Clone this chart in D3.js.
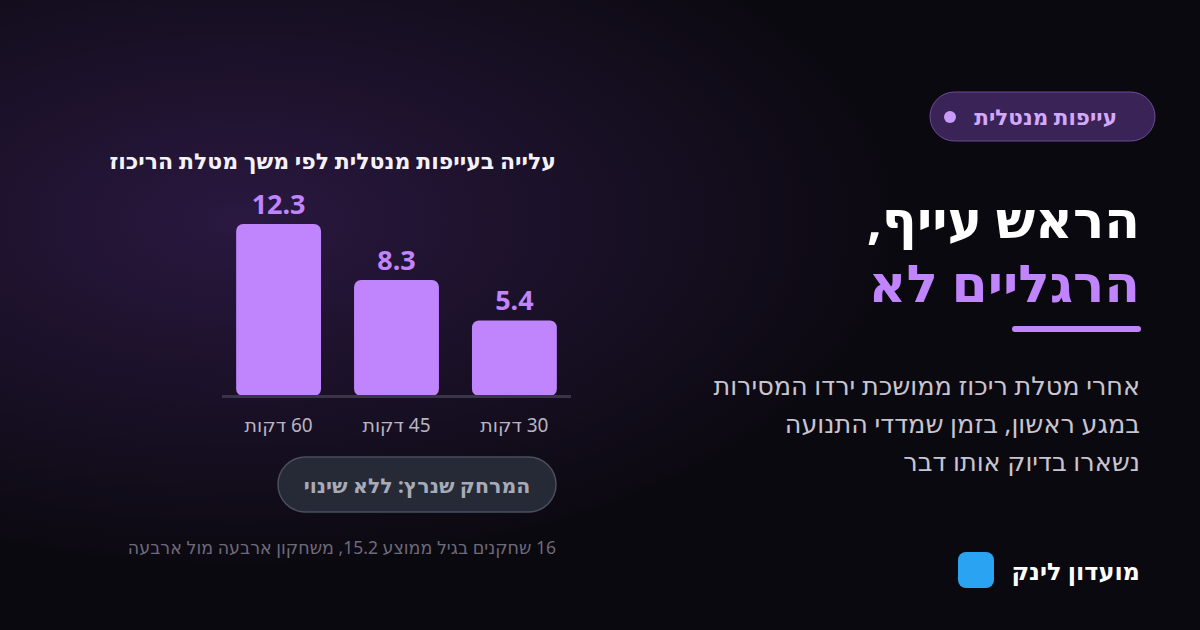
<!DOCTYPE html>
<html><head><meta charset="utf-8">
<script src="https://cdn.jsdelivr.net/npm/d3@7"></script>
<style>body{margin:0;background:#0b0910}svg{display:block}text{font-family:"Noto Sans","DejaVu Sans",sans-serif}</style>
</head><body>
<script>
var categories = ['60 דקות', '45 דקות', '30 דקות']
var values = [12.3, 8.3, 5.4]
var paragraph = ['אחרי מטלת ריכוז ממושכת ירדו המסירות', 'במגע ראשון, בזמן שמדדי התנועה', 'נשארו בדיוק אותו דבר']

var width = 1200, height = 630
var svg = d3.select('body').append('svg').attr('width', width).attr('height', height)

var defs = svg.append('defs')
var glow = defs.append('radialGradient').attr('id', 'glow').attr('cx', 0.2).attr('cy', 0.35).attr('r', 0.55)
glow.append('stop').attr('offset', '0%').attr('stop-color', '#2a1840')
glow.append('stop').attr('offset', '100%').attr('stop-color', '#0b0910')
svg.append('rect').attr('width', width).attr('height', height).attr('fill', 'url(#glow)')

function rtl (sel) { return sel.attr('direction', 'rtl') }

// chart
var x = d3.scaleBand().domain(categories).range([222, 571]).paddingInner(0.28).paddingOuter(0.12)
var y = d3.scaleLinear().domain([0, 12.3]).range([396, 224])

rtl(svg.append('text')).attr('x', 556).attr('y', 169).attr('text-anchor', 'start')
  .attr('font-size', 22).attr('font-weight', 700).attr('fill', '#f4f2f7')
  .text('עלייה בעייפות מנטלית לפי משך מטלת הריכוז')

svg.selectAll('rect.bar').data(values).enter().append('rect').attr('class', 'bar')
  .attr('x', function (d, i) { return x(categories[i]) })
  .attr('y', function (d) { return y(d) })
  .attr('width', x.bandwidth())
  .attr('height', function (d) { return y(0) - y(d) })
  .attr('rx', 7).attr('fill', '#c084fc')

svg.selectAll('text.val').data(values).enter().append('text').attr('class', 'val')
  .attr('x', function (d, i) { return x(categories[i]) + x.bandwidth() / 2 })
  .attr('y', function (d) { return y(d) - 10 })
  .attr('text-anchor', 'middle').attr('font-size', 27).attr('font-weight', 700).attr('fill', '#c084fc')
  .text(function (d) { return d.toFixed(1) })

svg.append('line').attr('x1', 222).attr('x2', 571).attr('y1', 396.5).attr('y2', 396.5)
  .attr('stroke', '#3a3448').attr('stroke-width', 3)

rtl(svg.selectAll('text.cat').data(categories).enter().append('text').attr('class', 'cat'))
  .attr('x', function (d) { return x(d) + x.bandwidth() / 2 })
  .attr('y', 432).attr('text-anchor', 'middle').attr('font-size', 19).attr('fill', '#b9b4c3')
  .text(function (d) { return d })

svg.append('rect').attr('x', 278).attr('y', 457).attr('width', 278).attr('height', 55).attr('rx', 27.5)
  .attr('fill', '#262a36').attr('stroke', '#4a4f5e').attr('stroke-width', 1.5)
rtl(svg.append('text')).attr('x', 417).attr('y', 493).attr('text-anchor', 'middle')
  .attr('font-size', 20.5).attr('font-weight', 700).attr('fill', '#a7abb7').text('המרחק שנרץ: ללא שינוי')

rtl(svg.append('text')).attr('x', 556).attr('y', 554).attr('text-anchor', 'start')
  .attr('font-size', 17.5).attr('fill', '#6e6a7a').text('16 שחקנים בגיל ממוצע 15.2, משחקון ארבעה מול ארבעה')

// right side
svg.append('rect').attr('x', 930).attr('y', 92).attr('width', 225).attr('height', 49).attr('rx', 24.5)
  .attr('fill', '#3a2356').attr('stroke', '#6d4b97').attr('stroke-width', 1)
svg.append('circle').attr('cx', 950).attr('cy', 117).attr('r', 6).attr('fill', '#c99af8')
rtl(svg.append('text')).attr('x', 1117).attr('y', 125).attr('text-anchor', 'start')
  .attr('font-size', 21.5).attr('font-weight', 700).attr('fill', '#d4a8fc').text('עייפות מנטלית')

rtl(svg.append('text')).attr('x', 1140).attr('y', 238).attr('text-anchor', 'start')
  .attr('font-size', 52).attr('font-weight', 700).attr('fill', '#ffffff').text('הראש עייף,')
rtl(svg.append('text')).attr('x', 1140).attr('y', 302).attr('text-anchor', 'start')
  .attr('font-size', 52).attr('font-weight', 700).attr('fill', '#c084fc').text('הרגליים לא')
svg.append('rect').attr('x', 1012).attr('y', 326).attr('width', 129).attr('height', 6).attr('rx', 3).attr('fill', '#c084fc')

rtl(svg.selectAll('text.para').data(paragraph).enter().append('text').attr('class', 'para'))
  .attr('x', 1140).attr('y', function (d, i) { return 395 + i * 38 })
  .attr('text-anchor', 'start').attr('font-size', 25.5).attr('fill', '#c8c4d0')
  .text(function (d) { return d })

svg.append('rect').attr('x', 958).attr('y', 552).attr('width', 36).attr('height', 36).attr('rx', 8).attr('fill', '#2ba3f3')
rtl(svg.append('text')).attr('x', 1140).attr('y', 580).attr('text-anchor', 'start')
  .attr('font-size', 24).attr('font-weight', 700).attr('fill', '#ffffff').text('מועדון לינק')
</script>
</body></html>
